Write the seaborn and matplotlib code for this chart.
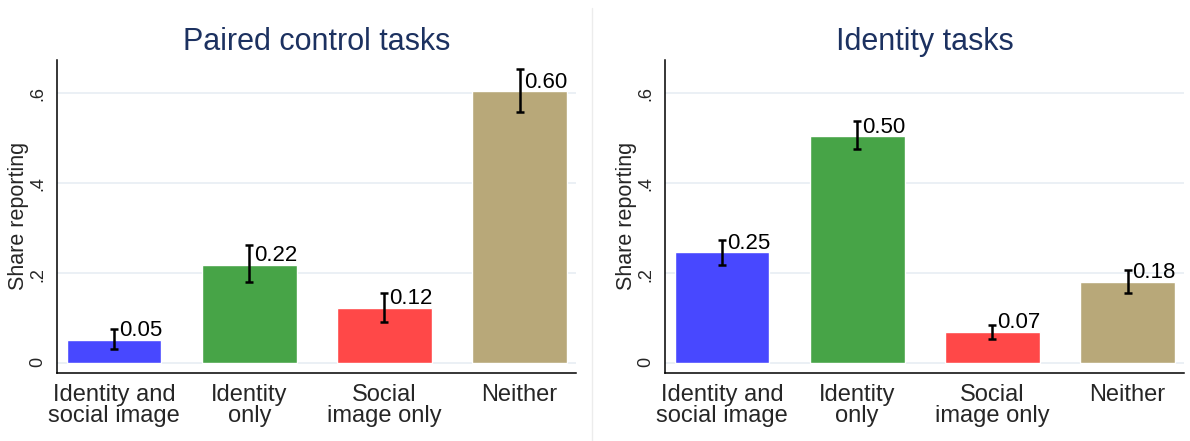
"""Share reporting by task type: paired control vs identity tasks."""

import matplotlib

matplotlib.use("Agg")
import matplotlib.pyplot as plt
from matplotlib.lines import Line2D
import pandas as pd
import seaborn as sns

CATEGORIES = ["Identity and\nsocial image", "Identity\nonly", "Social\nimage only", "Neither"]
COLORS = ["#4848ff", "#47a447", "#ff4848", "#b8a879"]

CONTROL_SHARE = [0.053, 0.219, 0.123, 0.603]
CONTROL_LO = [0.031, 0.180, 0.091, 0.556]
CONTROL_HI = [0.076, 0.262, 0.155, 0.653]

IDENTITY_SHARE = [0.246, 0.503, 0.070, 0.181]
IDENTITY_LO = [0.219, 0.475, 0.055, 0.156]
IDENTITY_HI = [0.273, 0.538, 0.086, 0.206]

YTICKS = [0, 0.2, 0.4, 0.6]
YTICK_LABELS = ["0", ".2", ".4", ".6"]

TITLE_COLOR = "#1c3160"
GRID_COLOR = "#e8eef3"


def panel(ax, title, share, lo, hi):
    df = pd.DataFrame({"cat": CATEGORIES, "share": share, "lo": lo, "hi": hi})
    ax.yaxis.grid(True, color=GRID_COLOR, linewidth=1.2, zorder=0)
    ax.set_axisbelow(True)
    sns.barplot(data=df, x="cat", y="share", hue="cat", palette=COLORS,
                width=0.7, errorbar=None, legend=False, saturation=1, ax=ax,
                zorder=2)
    pos = list(range(len(df)))
    ax.errorbar(pos, df["share"], yerr=[df["share"] - df["lo"], df["hi"] - df["share"]],
                fmt="none", ecolor="black", elinewidth=1.8, capsize=2.6,
                capthick=1.8, zorder=3)
    # value label sits just right of the error bar, baseline a little above the bar
    for x, val in zip(pos, df["share"]):
        ax.annotate(f"{val:.2f}", (x, val), xytext=(3.5, 2.5), textcoords="offset points",
                    ha="left", va="baseline", fontsize=16, color="black", zorder=4)

    ax.set_title(title, fontsize=22, color=TITLE_COLOR, pad=7)
    ax.set_xlim(-0.42, 3.42)
    ax.set_ylim(-0.0204, 0.672)
    ax.set_yticks(YTICKS)
    ax.set_yticklabels(YTICK_LABELS)
    ax.set_xlabel("")
    ax.set_ylabel("Share reporting", fontsize=15.5, labelpad=0)
    ax.tick_params(axis="y", labelrotation=90, labelsize=13, length=5, width=1, pad=3)
    ax.tick_params(axis="x", length=0, labelsize=17, pad=8)
    for lab in ax.get_xticklabels():
        lab.set_linespacing(0.95)
    for side in ["top", "right"]:
        ax.spines[side].set_visible(False)
    for side in ["left", "bottom"]:
        ax.spines[side].set_color("black")
        ax.spines[side].set_linewidth(1.1)


def main() -> None:
    sns.set_style("white")
    plt.rcParams["font.family"] = ["Liberation Sans", "DejaVu Sans"]

    fig = plt.figure(figsize=(11.9, 4.41), dpi=100)
    ax1 = fig.add_axes([0.0482, 0.1549, 0.4361, 0.709])
    ax2 = fig.add_axes([0.5591, 0.1549, 0.4361, 0.709])

    panel(ax1, "Paired control tasks", CONTROL_SHARE, CONTROL_LO, CONTROL_HI)
    panel(ax2, "Identity tasks", IDENTITY_SHARE, IDENTITY_LO, IDENTITY_HI)

    # thin divider between the two combined graphs
    fig.add_artist(Line2D([0.4972, 0.4972], [0.0, 0.982], color="#ececec",
                          linewidth=1, transform=fig.transFigure))

    fig.savefig("out.png", dpi=100)
    plt.close(fig)


if __name__ == "__main__":
    main()
